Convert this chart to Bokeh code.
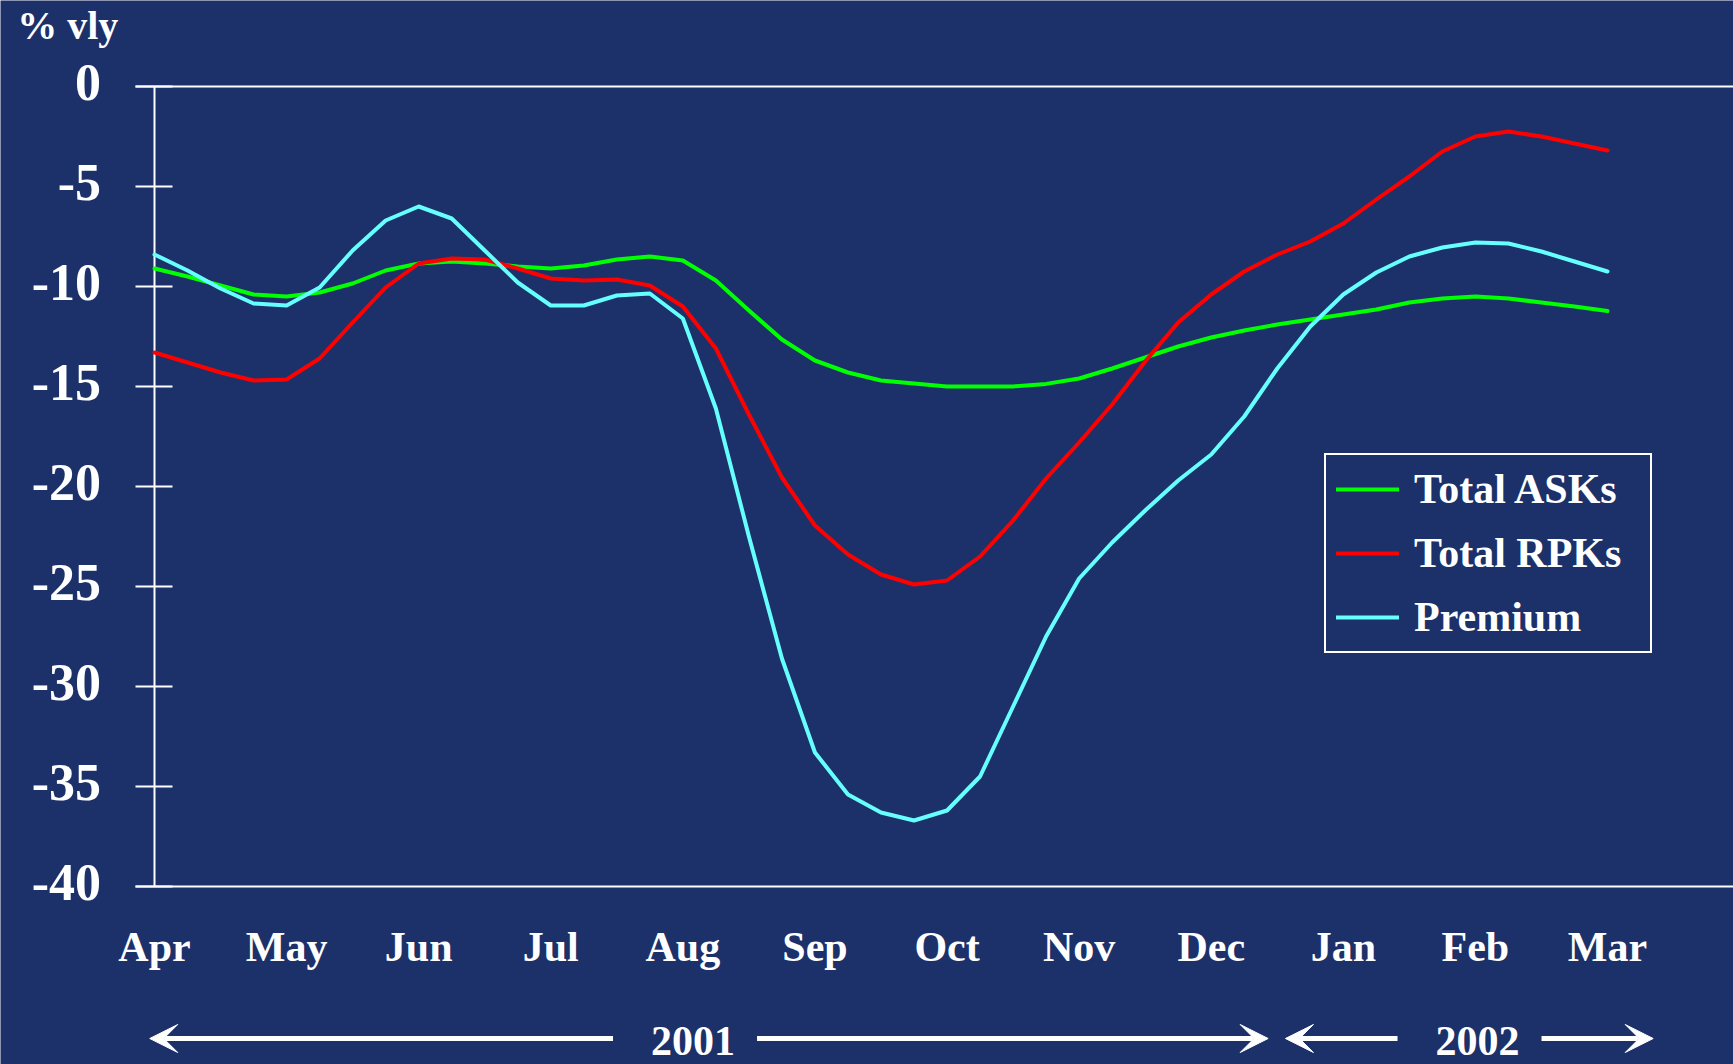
from bokeh.plotting import figure
from bokeh.models import Range1d, Legend, LegendItem, Arrow, VeeHead
from bokeh.core.properties import value
from bokeh.embed import file_html
from bokeh.resources import INLINE

# ---------------- data ----------------
months = ["Apr", "May", "Jun", "Jul", "Aug", "Sep", "Oct", "Nov", "Dec", "Jan", "Feb", "Mar"]
y_ticks = [0, -5, -10, -15, -20, -25, -30, -35, -40]
y_tick_labels = ["0", "-5", "-10", "-15", "-20", "-25", "-30", "-35", "-40"]

# weekly observations, x in month units (Apr = 0 ... Mar = 11)
weeks = [i / 4 for i in range(45)]

total_asks = [-9.1, -9.5, -9.95, -10.4, -10.5, -10.3, -9.85, -9.2, -8.85, -8.75,
              -8.85, -9.0, -9.1, -8.95, -8.65, -8.5, -8.7, -9.7, -11.2, -12.65,
              -13.7, -14.3, -14.7, -14.85, -15.0, -15.0, -15.0, -14.87, -14.6, -14.1,
              -13.55, -13.0, -12.55, -12.2, -11.9, -11.65, -11.4, -11.15, -10.8, -10.6,
              -10.5, -10.6, -10.8, -11.0, -11.23]

total_rpks = [-13.3, -13.8, -14.3, -14.7, -14.65, -13.6, -11.8, -10.05, -8.85, -8.6,
              -8.65, -9.1, -9.6, -9.7, -9.65, -9.95, -11.0, -13.1, -16.4, -19.55,
              -21.95, -23.4, -24.4, -24.9, -24.7, -23.5, -21.7, -19.6, -17.8, -15.9,
              -13.75, -11.8, -10.4, -9.25, -8.4, -7.75, -6.85, -5.65, -4.5, -3.25,
              -2.5, -2.25, -2.5, -2.85, -3.2]

premium = [-8.4, -9.2, -10.1, -10.85, -10.95, -10.05, -8.2, -6.7, -6.0, -6.6,
           -8.2, -9.8, -10.95, -10.95, -10.45, -10.35, -11.6, -16.1, -22.5, -28.6,
           -33.3, -35.4, -36.3, -36.7, -36.2, -34.5, -31.0, -27.5, -24.6, -22.8,
           -21.2, -19.7, -18.4, -16.5, -14.1, -12.0, -10.4, -9.3, -8.5, -8.05,
           -7.8, -7.85, -8.25, -8.75, -9.25]

series_names = ["Total ASKs", "Total RPKs", "Premium"]
y_title = "% vly"

years = ["2001", "2002"]
year_span_start = [-0.036, 8.562]   # month units, arrow tips
year_span_end = [8.431, 11.346]
year_label_x = [4.077, 10.016]

# ---------------- geometry / style ----------------
W, H = 1733, 1064
ORIGIN_X, ORIGIN_Y = 154, 86         # pixel position of (Apr, 0)
PX_X, PX_Y = 132.09, 20.0           # pixels per month, pixels per % point
BG = "#1C3169"
FONT = "Liberation Serif"
colors = ["#00FF00", "#FF0000", "#66FFFF"]


def dx(px):
    return px / PX_X


def dy(px):
    return px / PX_Y


x0 = -ORIGIN_X / PX_X
x1 = (W - ORIGIN_X) / PX_X
y1 = ORIGIN_Y / PX_Y
y0 = -(H - ORIGIN_Y) / PX_Y

p = figure(width=W, height=H, output_backend="svg", toolbar_location=None,
           x_range=Range1d(x0, x1), y_range=Range1d(y0, y1),
           x_axis_location=None, y_axis_location=None,
           min_border=0, min_border_left=0, min_border_right=0,
           min_border_top=0, min_border_bottom=0)
p.background_fill_color = BG
p.border_fill_color = BG
p.outline_line_color = None
p.grid.visible = False

ymin, ymax = min(y_ticks), max(y_ticks)

# axis frame: vertical axis, top and bottom lines, tick marks
p.segment(x0=[0], y0=[ymin], x1=[0], y1=[ymax], line_color="white", line_width=2)
p.segment(x0=[-dx(19)] * 2, y0=[ymax, ymin], x1=[x1] * 2, y1=[ymax, ymin],
          line_color="white", line_width=2)
p.segment(x0=[-dx(19)] * len(y_ticks), y0=y_ticks, x1=[dx(18)] * len(y_ticks), y1=y_ticks,
          line_color="white", line_width=2)

# tick labels
p.text(x=[-dx(53.5)] * len(y_ticks), y=[t + dy(4.1) for t in y_ticks], text=y_tick_labels,
       text_font=value(FONT), text_font_style="bold", text_font_size=value("52px"),
       text_color="white", text_align="right", text_baseline="alphabetic")
p.text(x=list(range(len(months))), y=[ymin - dy(60)] * len(months), text=months,
       text_font=value(FONT), text_font_style="bold", text_font_size=value("42px"),
       text_color="white", text_align="center", text_baseline="alphabetic")
p.text(x=[-dx(137.3)], y=[dy(61)], text=[y_title],
       text_font=value(FONT), text_font_style="bold", text_font_size=value("40px"),
       text_color="white", text_align="left", text_baseline="alphabetic")

# series
renderers = []
for ys, c in zip([total_asks, total_rpks, premium], colors):
    r = p.line(weeks, ys, line_color=c, line_width=4, line_cap="round", line_join="round")
    renderers.append(r)

legend = Legend(items=[LegendItem(label=n, renderers=[r]) for n, r in zip(series_names, renderers)],
                location=(1324, 411), orientation="vertical",
                label_text_font=FONT, label_text_font_style="bold",
                label_text_font_size="42px", label_text_color="white",
                border_line_color="white", border_line_width=2, border_line_alpha=1,
                background_fill_color=BG, background_fill_alpha=1,
                glyph_width=63, glyph_height=48, label_height=48, label_width=226,
                spacing=16, padding=10, label_standoff=15, margin=0)
p.add_layout(legend)

# year arrows with labels
row_y = ymin - dy(152)
label_y = ymin - dy(154)
for yr, xs, xe, xl in zip(years, year_span_start, year_span_end, year_label_x):
    for a, b in [(xl - dx(80), xs), (xl + dx(64), xe)]:
        p.add_layout(Arrow(x_start=a, y_start=row_y, x_end=b, y_end=row_y,
                           line_color="white", line_width=5,
                           end=VeeHead(size=28, fill_color="white", line_color="white",
                                       line_width=1)))
p.text(x=year_label_x, y=[label_y] * len(years), text=years,
       text_font=value(FONT), text_font_style="bold", text_font_size=value("42px"),
       text_color="white", text_align="center", text_baseline="alphabetic")

open("out.html", "w").write(file_html(p, INLINE))
